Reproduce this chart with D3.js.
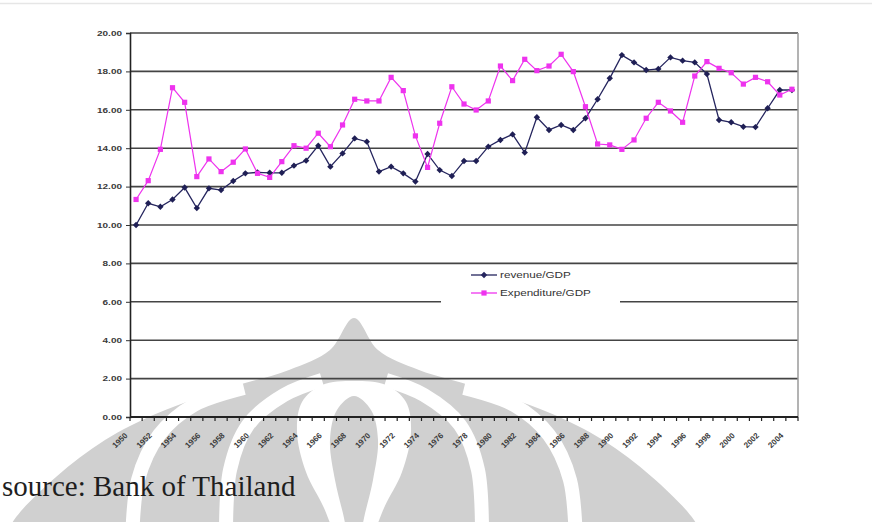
<!DOCTYPE html>
<html lang="en">
<head>
<meta charset="UTF-8">
<title>Revenue and Expenditure / GDP</title>
<style>
  body { margin: 0; background: #fff; }
  svg { display: block; }
  .axis-label { font: bold 8px Arial, "Liberation Sans", sans-serif; fill: #3a3a3a; }
  .grid { stroke: #444; stroke-width: 1.6; }
  .legend text { font: 9px Arial, "Liberation Sans", sans-serif; fill: #333; }
  .source { font: 29px "Liberation Serif", "Times New Roman", serif; fill: #1e1e1e; }
</style>
</head>
<body>
<div id="chart"></div>
<script src="https://d3js.org/d3.v7.min.js"></script>
<script>
const years = [1950, 1951, 1952, 1953, 1954, 1955, 1956, 1957, 1958, 1959,
  1960, 1961, 1962, 1963, 1964, 1965, 1966, 1967, 1968, 1969,
  1970, 1971, 1972, 1973, 1974, 1975, 1976, 1977, 1978, 1979,
  1980, 1981, 1982, 1983, 1984, 1985, 1986, 1987, 1988, 1989,
  1990, 1991, 1992, 1993, 1994, 1995, 1996, 1997, 1998, 1999,
  2000, 2001, 2002, 2003, 2004];

const revenue = [10.00, 11.13, 10.95, 11.33, 11.95, 10.88, 11.91, 11.82, 12.29, 12.69,
  12.74, 12.72, 12.72, 13.09, 13.35, 14.13, 13.04, 13.73, 14.51, 14.34,
  12.78, 13.04, 12.69, 12.26, 13.70, 12.86, 12.55, 13.33, 13.33, 14.08,
  14.43, 14.72, 13.77, 15.61, 14.95, 15.21, 14.95, 15.56, 16.55, 17.64,
  18.85, 18.47, 18.07, 18.13, 18.73, 18.56, 18.47, 17.86, 15.47, 15.35,
  15.12, 15.10, 16.08, 17.03, 17.03];

const expenditure = [11.33, 12.31, 13.94, 17.15, 16.39, 12.52, 13.44, 12.78, 13.27, 13.96,
  12.69, 12.48, 13.30, 14.13, 14.00, 14.78, 14.08, 15.21, 16.55, 16.46,
  16.46, 17.69, 17.00, 14.64, 13.00, 15.30, 17.20, 16.30, 15.99, 16.46,
  18.28, 17.52, 18.63, 18.04, 18.28, 18.89, 17.99, 16.16, 14.22, 14.17,
  13.94, 14.43, 15.56, 16.39, 15.94, 15.35, 17.76, 18.51, 18.16, 17.93,
  17.34, 17.69, 17.46, 16.77, 17.07];

const yTicks = [0, 2, 4, 6, 8, 10, 12, 14, 16, 18, 20];
const xTickLabels = [1950, 1952, 1954, 1956, 1958, 1960, 1962, 1964, 1966, 1968,
  1970, 1972, 1974, 1976, 1978, 1980, 1982, 1984, 1986, 1988,
  1990, 1992, 1994, 1996, 1998, 2000, 2002, 2004];
const seriesNames = ["revenue/GDP", "Expenditure/GDP"];

document.addEventListener('DOMContentLoaded', function () {
  const W = 872, H = 522;
  const plot = {left: 130, right: 798, top: 33, bottom: 417};

  const svg = d3.select("#chart").append("svg")
    .attr("width", W)
    .attr("height", H);

  svg.append("rect").attr("width", W).attr("height", H).attr("fill", "#fff");

  // faint border of the chart area
  svg.append("line")
    .attr("x1", 0).attr("x2", W).attr("y1", 3.5).attr("y2", 3.5)
    .attr("stroke", "#e6e6e6").attr("stroke-width", 1.5);

  // watermark (university logo), mirrored half-profiles around cx
  const cx = 354;
  const mirror = pts => {
    const right = pts.map(p => [cx + p[0], p[1]]);
    const left = pts.slice().reverse().map(p => [cx - p[0], p[1]]);
    return left.concat(right.slice(1));
  };
  const shape = d3.line().curve(d3.curveCatmullRom.alpha(0.5));
  const mark = svg.append("g").attr("class", "watermark");

  mark.append("path")
    .attr("d", shape(mirror([[0, 318], [24, 350], [65, 370], [122, 387], [196, 413],
      [249, 440], [298, 477], [340, 520], [352, 545]])) + "Z")
    .attr("fill", "#d0d0d0");

  // white bands between the petals
  [-1, 1].forEach(s => {
    mark.append("path")
      .attr("d", shape([[222, 545], [216, 480], [195, 435], [160, 405], [110, 388]]
        .map(p => [cx + s * p[0], p[1]])))
      .attr("fill", "none").attr("stroke", "#fff").attr("stroke-width", 14);
    mark.append("path")
      .attr("d", shape([[128, 545], [124, 470], [106, 425], [70, 395], [32, 380]]
        .map(p => [cx + s * p[0], p[1]])))
      .attr("fill", "none").attr("stroke", "#fff").attr("stroke-width", 14);
  });

  mark.append("path")
    .attr("d", shape(mirror([[0, 381], [32, 385], [52, 402], [57, 432], [48, 472],
      [30, 508], [16, 545]])) + "Z")
    .attr("fill", "#fff");
  mark.append("path")
    .attr("d", shape(mirror([[0, 396], [17, 410], [24, 440], [19, 480], [10, 518], [5, 545]])) + "Z")
    .attr("fill", "#d0d0d0");

  const x = d3.scaleBand()
    .domain(years)
    .range([plot.left, plot.right]);
  const cxOf = d => x(d) + x.bandwidth() / 2;

  const y = d3.scaleLinear()
    .domain([0, 20])
    .range([plot.bottom, plot.top]);

  // horizontal gridlines
  svg.append("g")
    .selectAll("line")
    .data(yTicks)
    .join("line")
    .attr("class", "grid")
    .attr("x1", plot.left).attr("x2", plot.right)
    .attr("y1", d => y(d)).attr("y2", d => y(d));

  // right border of plot area
  svg.append("line")
    .attr("x1", plot.right).attr("x2", plot.right)
    .attr("y1", plot.top).attr("y2", plot.bottom)
    .attr("stroke", "#9a9a9a").attr("stroke-width", 1.5);

  // y axis (labels are stretched sideways like the pasted chart)
  const yAxis = svg.append("g")
    .attr("transform", `translate(${plot.left},0)`)
    .call(d3.axisLeft(y).tickValues(yTicks).tickSize(4).tickFormat(""));
  yAxis.select(".domain").attr("stroke", "#222").attr("stroke-width", 1.6);
  yAxis.selectAll(".tick line").attr("stroke", "#333");

  svg.append("g")
    .selectAll("text")
    .data(yTicks)
    .join("text")
    .attr("class", "axis-label")
    .attr("text-anchor", "end")
    .attr("dy", "0.35em")
    .attr("transform", d => `translate(${plot.left - 8},${y(d)}) scale(1.25,1)`)
    .text(d3.format(".2f"));

  // x axis: ticks on category boundaries
  const bounds = years.map(d => x(d)).concat([plot.right]);
  svg.append("g")
    .selectAll("line")
    .data(bounds)
    .join("line")
    .attr("x1", d => d).attr("x2", d => d)
    .attr("y1", plot.bottom).attr("y2", plot.bottom + 4)
    .attr("stroke", "#222").attr("stroke-width", 1.2);
  svg.append("line")
    .attr("x1", plot.left).attr("x2", plot.right)
    .attr("y1", plot.bottom).attr("y2", plot.bottom)
    .attr("stroke", "#222").attr("stroke-width", 1.8);

  svg.append("g")
    .selectAll("text")
    .data(xTickLabels)
    .join("text")
    .attr("class", "axis-label")
    .attr("text-anchor", "end")
    .attr("transform", d => `translate(${cxOf(d) - 8},${plot.bottom + 19}) rotate(-45)`)
    .text(d => d);

  // series
  const line = d3.line()
    .x((d, i) => cxOf(years[i]))
    .y(d => y(d));

  svg.append("path")
    .datum(revenue)
    .attr("fill", "none")
    .attr("stroke", "#25255e")
    .attr("stroke-width", 1.3)
    .attr("d", line);

  svg.append("path")
    .datum(expenditure)
    .attr("fill", "none")
    .attr("stroke", "#ee33ee")
    .attr("stroke-width", 1.2)
    .attr("d", line);

  const diamond = d3.symbol().type(d3.symbolDiamond2).size(26);
  svg.append("g")
    .selectAll("path")
    .data(revenue)
    .join("path")
    .attr("d", diamond)
    .attr("transform", (d, i) => `translate(${cxOf(years[i])},${y(d)})`)
    .attr("fill", "#1f1f55");

  svg.append("g")
    .selectAll("rect")
    .data(expenditure)
    .join("rect")
    .attr("x", (d, i) => cxOf(years[i]) - 2.6)
    .attr("y", d => y(d) - 2.6)
    .attr("width", 5.2).attr("height", 5.2)
    .attr("fill", "#ee33ee");

  // legend
  const legend = svg.append("g").attr("class", "legend");
  legend.append("rect")
    .attr("x", 441).attr("y", 267).attr("width", 179).attr("height", 38)
    .attr("fill", "#fff");
  const colors = ["#25255e", "#ee33ee"];
  seriesNames.forEach((name, i) => {
    const ly = 275 + i * 18;
    legend.append("line")
      .attr("x1", 471).attr("x2", 497).attr("y1", ly).attr("y2", ly)
      .attr("stroke", colors[i]).attr("stroke-width", 1.3);
    if (i === 0) {
      legend.append("path").attr("d", diamond)
        .attr("transform", `translate(484,${ly})`).attr("fill", colors[i]);
    } else {
      legend.append("rect").attr("x", 481.4).attr("y", ly - 2.6)
        .attr("width", 5.2).attr("height", 5.2).attr("fill", colors[i]);
    }
    legend.append("text")
      .attr("transform", `translate(500,${ly}) scale(1.3,1)`)
      .attr("dy", "0.35em")
      .text(name);
  });

  svg.append("text")
    .attr("class", "source")
    .attr("x", 2)
    .attr("y", 496)
    .text("source: Bank of Thailand");
});
</script>
</body>
</html>
